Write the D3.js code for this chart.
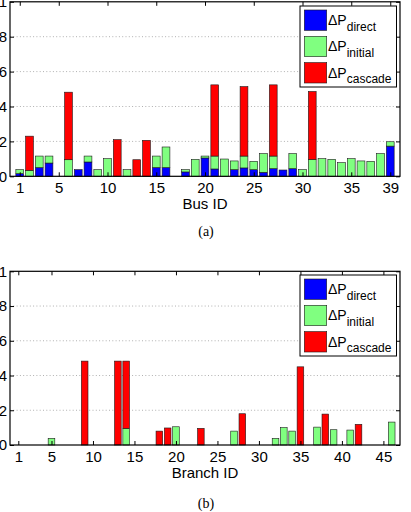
<!DOCTYPE html>
<html lang="en">
<head>
  <meta charset="UTF-8">
  <title>Power loss by bus and branch</title>
  <script src="https://d3js.org/d3.v7.min.js"></script>
  <style>
    body { margin: 0; background: #fff; }
    text { font-family: "Liberation Sans", Arial, Helvetica, sans-serif; }
  </style>
</head>
<body>
<script>
  // Bus panel (a): stacked segments per bus 1..39
  const busDirect = [0.015, 0, 0.05, 0.076, 0, 0, 0.038, 0.082, 0, 0,
    0, 0, 0, 0, 0.05, 0.05, 0, 0.025, 0, 0.105,
    0.042, 0, 0.038, 0.048, 0.038, 0.023, 0.044, 0.036, 0.044, 0,
    0, 0, 0, 0, 0, 0, 0, 0, 0.173];
  const busInitial = [0.023, 0.034, 0.066, 0.04, 0, 0.095, 0, 0.034, 0.038, 0.101,
    0, 0.038, 0, 0, 0.066, 0.118, 0, 0.013, 0.097, 0.011,
    0.074, 0.099, 0.05, 0.068, 0.048, 0.107, 0.072, 0, 0.086, 0.038,
    0.097, 0.101, 0.097, 0.078, 0.101, 0.088, 0.086, 0.13, 0.025];
  const busCascade = [0, 0.196, 0, 0, 0, 0.387, 0, 0, 0, 0,
    0.21, 0, 0.095, 0.206, 0, 0, 0, 0, 0, 0,
    0.408, 0, 0, 0.398, 0, 0, 0.408, 0, 0, 0,
    0.389, 0, 0, 0, 0, 0, 0, 0, 0];

  // Branch panel (b): stacked segments per branch 1..46
  const branchDirect = new Array(46).fill(0);
  const branchInitial = [0, 0, 0, 0, 0.038, 0, 0, 0, 0, 0,
    0, 0, 0, 0.096, 0, 0, 0, 0, 0, 0.105,
    0, 0, 0, 0, 0, 0, 0.08, 0, 0, 0,
    0, 0.038, 0.1, 0.08, 0, 0, 0.103, 0, 0.088, 0,
    0.086, 0, 0, 0, 0, 0.132];
  const branchCascade = [0, 0, 0, 0, 0, 0, 0, 0, 0.483, 0,
    0, 0, 0.483, 0.387, 0, 0, 0, 0.08, 0.098, 0,
    0, 0, 0.096, 0, 0, 0, 0, 0.18, 0, 0,
    0, 0, 0, 0, 0.45, 0, 0, 0.178, 0, 0,
    0, 0.119, 0, 0, 0, 0];

  const busTicks = [1, 5, 10, 15, 20, 25, 30, 35, 39];
  const branchTicks = [1, 5, 10, 15, 20, 25, 30, 35, 40, 45];
  const yTicks = [0, 0.2, 0.4, 0.6, 0.8, 1];
  const seriesNames = ["direct", "initial", "cascade"];
  const colors = ["#0000ff", "#80ff80", "#ff0000"];

  const W = 411, H = 512;
  const svg = d3.select("body").append("svg")
    .attr("width", W)
    .attr("height", H);

  function drawPanel(cfg) {
    const n = cfg.series[0].length;
    const x = d3.scaleLinear().domain([0, cfg.xmax]).range([10, 400]);
    const y = d3.scaleLinear().domain([0, 1]).range([cfg.bottom, cfg.top]);
    const bw = 0.8 * (x(1) - x(0));

    const g = svg.append("g");

    // dotted grid
    g.selectAll(".grid")
      .data(yTicks.filter(d => d > 0 && d < 1))
      .enter().append("line")
      .attr("x1", x(0)).attr("x2", x(cfg.xmax))
      .attr("y1", d => y(d)).attr("y2", d => y(d))
      .attr("stroke", "#b0b0b0")
      .attr("stroke-width", 1)
      .attr("stroke-dasharray", "1,2.3");

    // stacked bars
    const ids = d3.range(1, n + 1);
    const stacked = d3.stack().keys([0, 1, 2]).value((i, k) => cfg.series[k][i - 1])(ids);
    stacked.forEach((layer, k) => {
      g.selectAll(".bar" + k)
        .data(layer.filter(d => d[1] - d[0] > 0))
        .enter().append("rect")
        .attr("x", d => x(d.data) - bw / 2)
        .attr("width", bw)
        .attr("y", d => y(d[1]))
        .attr("height", d => y(d[0]) - y(d[1]))
        .attr("fill", colors[k])
        .attr("stroke", "#1a1a1a")
        .attr("stroke-width", 0.6);
    });

    // axes with inward ticks
    const xb = g.append("g")
      .attr("transform", "translate(0," + cfg.bottom + ")")
      .call(d3.axisBottom(x).tickValues(cfg.xticks).tickSizeInner(-4).tickSizeOuter(0).tickPadding(6));
    const xt = g.append("g")
      .attr("transform", "translate(0," + cfg.top + ")")
      .call(d3.axisTop(x).tickValues(cfg.xticks).tickSizeInner(-4).tickSizeOuter(0).tickFormat(""));
    // labels sit against the left page edge, as in the reference
    const yl = g.append("g")
      .attr("transform", "translate(10,0)")
      .call(d3.axisLeft(y).tickValues(yTicks).tickSizeInner(-4).tickSizeOuter(0).tickPadding(3)
        .tickFormat(d => d3.format("")(+d.toFixed(1))));
    const yr = g.append("g")
      .attr("transform", "translate(400,0)")
      .call(d3.axisRight(y).tickValues(yTicks).tickSizeInner(-4).tickSizeOuter(0).tickFormat(""));

    [xb, xt, yl, yr].forEach(a => {
      a.select(".domain").remove();
      a.selectAll("line").attr("stroke", "#000");
      a.selectAll("text").attr("fill", "#000")
        .style("font-size", "15px")
        .style("font-family", "'Liberation Sans', Arial, sans-serif");
    });

    // frame
    g.append("rect")
      .attr("x", x(0)).attr("y", cfg.top)
      .attr("width", x(cfg.xmax) - x(0))
      .attr("height", cfg.bottom - cfg.top)
      .attr("fill", "none")
      .attr("stroke", "#000")
      .attr("stroke-width", 1.2);

    // axis title
    g.append("text")
      .attr("x", 205)
      .attr("y", cfg.bottom + 33)
      .attr("text-anchor", "middle")
      .style("font-size", "15px")
      .text(cfg.xlabel);

    // panel caption
    g.append("text")
      .attr("x", 206)
      .attr("y", cfg.bottom + cfg.capOffset)
      .attr("text-anchor", "middle")
      .style("font-family", "'Liberation Serif', 'Times New Roman', serif")
      .style("font-size", "14px")
      .text(cfg.caption);

    // legend
    const lx = 300, ly = cfg.top + cfg.legendDy;
    const leg = g.append("g").attr("transform", "translate(" + lx + "," + ly + ")");
    leg.append("rect")
      .attr("width", 96.5).attr("height", 81)
      .attr("fill", "#fff")
      .attr("stroke", "#000")
      .attr("stroke-width", 1);
    seriesNames.forEach((name, k) => {
      const row = leg.append("g").attr("transform", "translate(0," + (4 + k * 26.3) + ")");
      row.append("rect")
        .attr("x", 4.3).attr("width", 22.4).attr("height", 20.4)
        .attr("fill", colors[k])
        .attr("stroke", "#1a1a1a")
        .attr("stroke-width", 0.6);
      const t = row.append("text")
        .attr("x", 28)
        .attr("y", 15)
        .style("font-size", "14px");
      t.append("tspan").text("\u0394P");
      t.append("tspan").attr("dy", 5.5).style("font-size", "12px").text(name);
    });
  }

  drawPanel({
    series: [busDirect, busInitial, busCascade],
    xmax: 40, top: 1.8, bottom: 176.3,
    xticks: busTicks, xlabel: "Bus ID", caption: "(a)", capOffset: 60,
    legendDy: 4.2
  });

  drawPanel({
    series: [branchDirect, branchInitial, branchCascade],
    xmax: 47, top: 271.3, bottom: 445,
    xticks: branchTicks, xlabel: "Branch ID", caption: "(b)", capOffset: 63,
    legendDy: 3.7
  });
</script>
</body>
</html>
